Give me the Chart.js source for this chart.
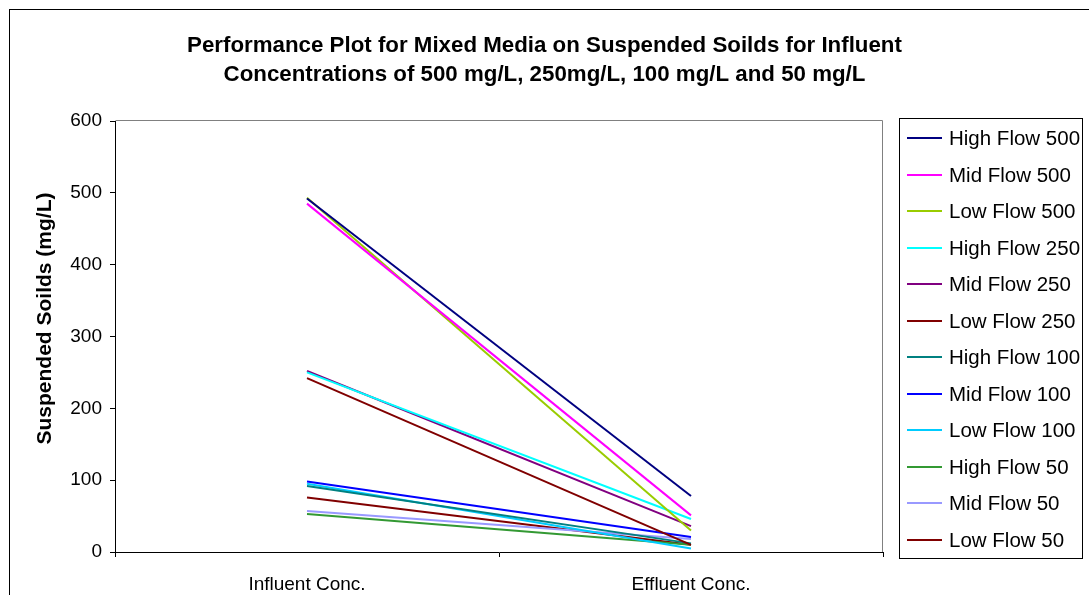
<!DOCTYPE html>
<html lang="en">
<head>
  <meta charset="UTF-8">
  <title>Performance Plot for Mixed Media</title>
  <script src="https://cdn.jsdelivr.net/npm/chart.js"></script>
  <style>
    body {
      margin: 0;
      padding: 0;
      background: #fff;
    }
    canvas {
      display: block;
    }
  </style>
</head>
<body>
  <canvas id="chart" width="1089" height="595"></canvas>

  <script>
    // categories on the x axis
    const categories = ['Influent Conc.', 'Effluent Conc.'];

    // series names and colours (Excel default palette)
    const seriesNames = [
      'High Flow 500', 'Mid Flow 500', 'Low Flow 500',
      'High Flow 250', 'Mid Flow 250', 'Low Flow 250',
      'High Flow 100', 'Mid Flow 100', 'Low Flow 100',
      'High Flow 50', 'Mid Flow 50', 'Low Flow 50'
    ];
    const seriesColors = [
      '#000080', '#ff00ff', '#99cc00',
      '#00ffff', '#800080', '#800000',
      '#008080', '#0000ff', '#00ccff',
      '#339933', '#9999ff', '#800000'
    ];

    // influent / effluent suspended solids (mg/L)
    const highFlow500 = [492, 78];
    const midFlow500  = [485, 51];
    const lowFlow500  = [493, 30];
    const highFlow250 = [250, 46];
    const midFlow250  = [252, 36];
    const lowFlow250  = [242, 10];
    const highFlow100 = [92, 12];
    const midFlow100  = [98, 21];
    const lowFlow100  = [95, 5];
    const highFlow50  = [53, 10];
    const midFlow50   = [57, 18];
    const lowFlow50   = [76, 10];

    const seriesValues = [
      highFlow500, midFlow500, lowFlow500,
      highFlow250, midFlow250, lowFlow250,
      highFlow100, midFlow100, lowFlow100,
      highFlow50, midFlow50, lowFlow50
    ];

    const yTitle = 'Suspended Soilds (mg/L)';
    const FONT = "'Liberation Sans', Arial, sans-serif";

    // frame round the whole chart + grey top/right edge of the plot area
    const framePlugin = {
      id: 'frame',
      beforeDraw(chart) {
        const {ctx, chartArea: a} = chart;
        ctx.save();
        ctx.strokeStyle = '#000';
        ctx.lineWidth = 1;
        ctx.strokeRect(9.5, 9.5, chart.width + 20, chart.height + 20);
        ctx.strokeStyle = '#808080';
        ctx.beginPath();
        ctx.moveTo(Math.round(a.left) + 0.5, Math.round(a.top) - 0.5);
        ctx.lineTo(Math.round(a.right) - 0.5, Math.round(a.top) - 0.5);
        ctx.lineTo(Math.round(a.right) - 0.5, Math.round(a.bottom));
        ctx.stroke();

        // y axis title, sits a bit above the middle in the original
        ctx.translate(45, (a.top + a.bottom) / 2 - 18);
        ctx.rotate(-Math.PI / 2);
        ctx.font = 'bold 21px ' + FONT;
        ctx.fillStyle = '#000';
        ctx.textAlign = 'center';
        ctx.textBaseline = 'middle';
        ctx.fillText(yTitle, 0, 0);
        ctx.restore();
      }
    };

    // boxed legend on the right, like the spreadsheet one
    const boxLegend = {
      id: 'boxLegend',
      afterDraw(chart) {
        const {ctx, chartArea: a} = chart;
        const x = Math.round(a.right) + 16, y = 118, w = 183, h = 440;
        ctx.save();
        ctx.strokeStyle = '#000';
        ctx.lineWidth = 1;
        ctx.strokeRect(x + 0.5, y + 0.5, w, h);
        ctx.font = '20.5px ' + FONT;
        ctx.textBaseline = 'middle';
        ctx.textAlign = 'left';
        chart.data.datasets.forEach((ds, i) => {
          const ly = Math.round(y + 20 + i * 36.5);
          ctx.strokeStyle = ds.borderColor;
          ctx.lineWidth = 2;
          ctx.beginPath();
          ctx.moveTo(x + 8, ly);
          ctx.lineTo(x + 43, ly);
          ctx.stroke();
          ctx.fillStyle = '#000';
          ctx.fillText(ds.label, x + 50, ly + 1);
        });
        ctx.restore();
      }
    };

    new Chart(document.getElementById('chart'), {
      type: 'line',
      data: {
        labels: categories,
        datasets: seriesNames.map((name, i) => ({
          label: name,
          data: seriesValues[i],
          borderColor: seriesColors[i],
          backgroundColor: seriesColors[i],
          borderWidth: 2,
          pointRadius: 0,
          tension: 0,
          fill: false
        }))
      },
      options: {
        responsive: false,
        animation: false,
        layout: { padding: 0 },
        plugins: {
          legend: { display: false },
          tooltip: { enabled: false },
          title: {
            display: true,
            text: [
              'Performance Plot for Mixed Media on Suspended Soilds for Influent',
              'Concentrations of 500 mg/L, 250mg/L, 100 mg/L and 50 mg/L'
            ],
            color: '#000',
            font: { family: FONT, size: 22.3, weight: 'bold', lineHeight: '29px' },
            padding: { top: 31, bottom: 32 }
          }
        },
        scales: {
          x: {
            offset: true,
            grid: {
              offset: true,
              drawOnChartArea: false,
              drawTicks: true,
              tickLength: 5,
              color: '#000'
            },
            border: { color: '#000', width: 1 },
            ticks: {
              color: '#000',
              font: { family: FONT, size: 19 },
              padding: 16,
              maxRotation: 0
            },
            afterFit(s) { s.height = 43; }
          },
          y: {
            min: 0,
            max: 600,
            ticks: {
              stepSize: 100,
              color: '#000',
              font: { family: FONT, size: 19 },
              padding: 8
            },
            grid: {
              drawOnChartArea: false,
              drawTicks: true,
              tickLength: 5,
              color: '#000'
            },
            border: { color: '#000', width: 1 },
            afterFit(s) { s.width = 115; }
          },
          // empty right-hand axis that only reserves room for the legend
          side: {
            type: 'linear',
            position: 'right',
            min: 0,
            max: 600,
            ticks: { display: false },
            grid: { display: false },
            border: { display: false },
            afterFit(s) { s.width = 206; }
          }
        }
      },
      plugins: [framePlugin, boxLegend]
    });
  </script>
</body>
</html>
